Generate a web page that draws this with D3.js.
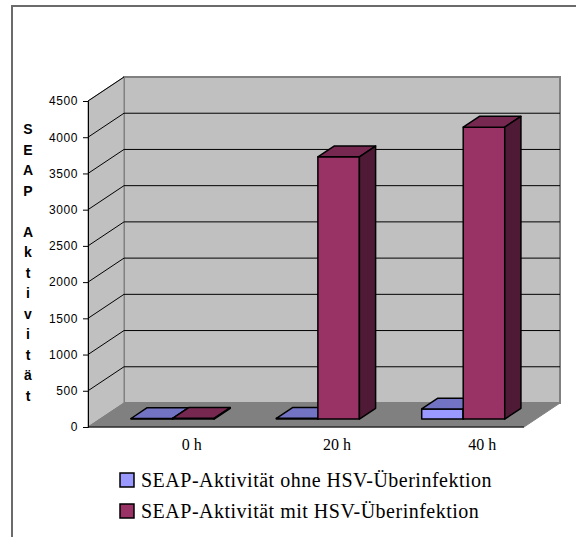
<!DOCTYPE html>
<html>
<head>
<meta charset="utf-8">
<script src="https://cdn.jsdelivr.net/npm/d3@7"></script>
<style>
  body { margin: 0; background: #fff; }
</style>
</head>
<body>
<div id="chart"></div>
<script>
// data
var categories = ["0 h", "20 h", "40 h"];
var ohneHSV = [8, 10, 140];
var mitHSV = [10, 3620, 4030];
var seriesNames = ["SEAP-Aktivität ohne HSV-Überinfektion", "SEAP-Aktivität mit HSV-Überinfektion"];
var yTicks = [0, 500, 1000, 1500, 2000, 2500, 3000, 3500, 4000, 4500];
var titleLetters = ["S", "E", "A", "P", "", "A", "k", "t", "i", "v", "i", "t", "ä", "t"];

var width = 576, height = 537;

// 3d depth of the plot box
var depthX = 36, depthY = -24;
var barFront = 0.33, barBack = 0.78;

var colors = [
  {front: "#9999ff", top: "#7373c4", side: "#5c5c9e"},
  {front: "#993366", top: "#772850", side: "#4f1a35"}
];

var svg = d3.select("#chart")
  .append("svg")
    .attr("width", width)
    .attr("height", height);

// outer frame
svg.append("rect")
    .attr("x", 12)
    .attr("y", 6)
    .attr("width", 700)
    .attr("height", 700)
    .attr("fill", "none")
    .attr("stroke", "#6b6b6b")
    .attr("stroke-width", 2);

var x = d3.scaleBand()
  .domain(categories)
  .range([88, 524]);

var y = d3.scaleLinear()
  .domain([0, 4500])
  .range([427, 101]);

var x0 = x.range()[0], x1 = x.range()[1];
var yBot = y(0), yTop = y(4500);

function pts(arr) {
  return arr.map(function(p) { return p[0] + "," + p[1]; }).join(" ");
}

// back wall
svg.append("polygon")
    .attr("points", pts([[x0 + depthX, yTop + depthY], [x1 + depthX, yTop + depthY],
                         [x1 + depthX, yBot + depthY], [x0 + depthX, yBot + depthY]]))
    .attr("fill", "#c0c0c0")
    .attr("stroke", "#808080")
    .attr("stroke-width", 2);

// side wall
svg.append("polygon")
    .attr("points", pts([[x0, yTop], [x0 + depthX, yTop + depthY],
                         [x0 + depthX, yBot + depthY], [x0, yBot]]))
    .attr("fill", "#c0c0c0")
    .attr("stroke", "#808080")
    .attr("stroke-width", 1);

// floor
svg.append("polygon")
    .attr("points", pts([[x0, yBot], [x0 + depthX, yBot + depthY],
                         [x1 + depthX, yBot + depthY], [x1, yBot]]))
    .attr("fill", "#808080")
    .attr("stroke", "#808080")
    .attr("stroke-width", 1);

// gridlines
var grid = yTicks.filter(function(d) { return d > 0; });
svg.append("g")
  .selectAll("line.back")
  .data(grid.slice(0, -1))
  .enter().append("line")
    .attr("x1", x0 + depthX)
    .attr("x2", x1 + depthX)
    .attr("y1", function(d) { return y(d) + depthY; })
    .attr("y2", function(d) { return y(d) + depthY; })
    .attr("stroke", "#000")
    .attr("stroke-width", 1);
svg.append("g")
  .selectAll("line.side")
  .data(grid)
  .enter().append("line")
    .attr("x1", x0)
    .attr("x2", x0 + depthX)
    .attr("y1", function(d) { return y(d); })
    .attr("y2", function(d) { return y(d) + depthY; })
    .attr("stroke", "#000")
    .attr("stroke-width", 1);

// y axis
svg.append("g")
    .attr("transform", "translate(" + x0 + ",0)")
    .call(d3.axisLeft(y).tickValues(yTicks).tickSize(5).tickPadding(5).tickFormat(d3.format("d")))
    .call(function(g) {
      g.select(".domain").attr("stroke", "#000");
      g.selectAll("text")
        .style("font-family", "'Liberation Sans', Arial, sans-serif")
        .style("font-size", "12px")
        .style("letter-spacing", "0.6px")
        .attr("fill", "#000");
    });

// floor front edge
svg.append("line")
    .attr("x1", x0)
    .attr("x2", x1)
    .attr("y1", yBot)
    .attr("y2", yBot)
    .attr("stroke", "#000")
    .attr("stroke-width", 1);

// bars
var bw = x.bandwidth() / 3.5;
var fdx = depthX * barFront, fdy = depthY * barFront;
var bdx = depthX * barBack, bdy = depthY * barBack;

var bars = [];
categories.forEach(function(c, i) {
  [ohneHSV[i], mitHSV[i]].forEach(function(v, s) {
    bars.push({cat: c, value: v, s: s});
  });
});

var barG = svg.append("g")
  .selectAll("g")
  .data(bars)
  .enter().append("g");

function leftX(d) { return x(d.cat) + bw * 0.75 + d.s * bw; }

// front face
barG.append("polygon")
    .attr("points", function(d) {
      var l = leftX(d) + fdx, r = l + bw;
      var b = y(0) + fdy, t = y(d.value) + fdy;
      return pts([[l, t], [r, t], [r, b], [l, b]]);
    })
    .attr("fill", function(d) { return colors[d.s].front; });

// top face
barG.append("polygon")
    .attr("points", function(d) {
      var l = leftX(d), t = y(d.value);
      return pts([[l + fdx, t + fdy], [l + bw + fdx, t + fdy],
                  [l + bw + bdx, t + bdy], [l + bdx, t + bdy]]);
    })
    .attr("fill", function(d) { return colors[d.s].top; });

// side face
barG.append("polygon")
    .attr("points", function(d) {
      var r = leftX(d) + bw, t = y(d.value), b = y(0);
      return pts([[r + fdx, t + fdy], [r + bdx, t + bdy],
                  [r + bdx, b + bdy], [r + fdx, b + fdy]]);
    })
    .attr("fill", function(d) { return colors[d.s].side; });

barG.selectAll("polygon")
    .attr("stroke", "#000")
    .attr("stroke-width", 1.5)
    .attr("stroke-linejoin", "round");

// category labels
svg.append("g")
  .selectAll("text")
  .data(categories)
  .enter().append("text")
    .attr("x", function(d) { return x(d) + x.bandwidth() / 2 + 31; })
    .attr("y", 450)
    .attr("text-anchor", "middle")
    .text(function(d) { return d; })
    .style("font-family", "'Liberation Serif', 'Times New Roman', serif")
    .style("font-size", "16px");

// axis title, one letter per line
svg.append("g")
  .selectAll("text")
  .data(titleLetters)
  .enter().append("text")
    .attr("x", 28)
    .attr("y", function(d, i) { return 129 + i * 20.5; })
    .attr("dy", "0.36em")
    .attr("text-anchor", "middle")
    .text(function(d) { return d; })
    .style("font-family", "'Liberation Sans', Arial, sans-serif")
    .style("font-weight", "bold")
    .style("font-size", "14px");

// legend
var legend = svg.append("g")
  .selectAll("g")
  .data(seriesNames)
  .enter().append("g")
    .attr("transform", function(d, i) { return "translate(120," + (473 + i * 31) + ")"; });

legend.append("rect")
    .attr("width", 14)
    .attr("height", 14)
    .attr("fill", function(d, i) { return colors[i].front; })
    .attr("stroke", "#000")
    .attr("stroke-width", 1.5);

legend.append("text")
    .attr("x", 21)
    .attr("y", 14)
    .text(function(d) { return d; })
    .style("font-family", "'Liberation Serif', 'Times New Roman', serif")
    .style("font-size", "20px")
    .style("letter-spacing", "0.5px");
</script>
</body>
</html>
